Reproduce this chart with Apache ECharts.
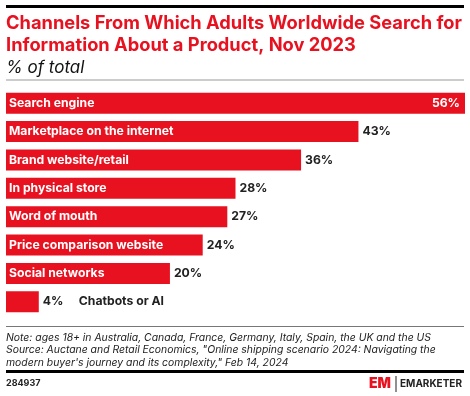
<!DOCTYPE html>
<html>
<head>
<meta charset="utf-8">
<script src="https://cdn.jsdelivr.net/npm/echarts@6/dist/echarts.min.js"></script>
<style>
  html, body { margin: 0; padding: 0; background: #fff; }
  #main { width: 470px; height: 396px; }
</style>
</head>
<body>
<div id="main"></div>
<script>
// data
var categories = ['Search engine', 'Marketplace on the internet', 'Brand website/retail',
  'In physical store', 'Word of mouth', 'Price comparison website', 'Social networks', 'Chatbots or AI'];
var values = [56, 43, 36, 28, 27, 24, 20, 4];

var RED = '#e8111f';
var FONT = 'Inter';

var chart = echarts.init(document.getElementById('main'));

// name labels inside the bars (last one goes outside, next to its value)
var nameData = values.map(function (v, i) {
  var item = { value: v };
  if (i === values.length - 1) item.label = { show: false };
  return item;
});

// value labels, right of bar; first one sits inside the bar
var valueData = values.map(function (v, i) {
  var item = { value: v };
  if (i === 0) {
    item.label = { position: 'insideRight', color: '#fff', offset: [-1, 0] };
  }
  if (i === values.length - 1) {
    item.label = {
      formatter: '{v|' + v + '%}{n|' + categories[i] + '}',
      rich: {
        v: { fontFamily: FONT, fontWeight: 'bold', fontSize: 12.2, color: '#222', width: 36 },
        n: { fontFamily: FONT, fontWeight: 'bold', fontSize: 12.2, color: '#222' }
      }
    };
  }
  return item;
});

chart.setOption({
  animation: false,
  grid: { left: 6, right: 5, top: 89, height: 227, containLabel: false },
  xAxis: { type: 'value', min: 0, max: 56, show: false },
  yAxis: {
    type: 'category', data: categories, inverse: true, show: false
  },
  series: [
    {
      type: 'bar',
      data: nameData,
      barWidth: 21,
      itemStyle: { color: RED },
      label: {
        show: true, position: 'insideLeft', offset: [-2, 0],
        formatter: function (p) { return categories[p.dataIndex]; },
        color: '#fff', fontFamily: FONT, fontWeight: 'bold', fontSize: 12.2
      }
    },
    {
      type: 'bar',
      data: valueData,
      barWidth: 21,
      barGap: '-100%',
      itemStyle: { color: 'transparent' },
      label: {
        show: true, position: 'right', distance: 4,
        formatter: '{c}%',
        color: '#222', fontFamily: FONT, fontWeight: 'bold', fontSize: 12.2
      }
    }
  ],
  graphic: [
    { type: 'rect', shape: { x: 6, y: 5, width: 458, height: 3 }, style: { fill: '#000' } },
    { type: 'text', x: 6, y: 13, style: {
      text: 'Channels From Which Adults Worldwide Search for\nInformation About a Product, Nov 2023',
      fill: RED, font: 'bold 18.3px Inter', lineHeight: 21.5 } },
    { type: 'text', x: 6, y: 59, style: {
      text: '% of total', fill: '#111', font: 'italic 17px Inter' } },
    { type: 'rect', shape: { x: 6, y: 79.5, width: 458, height: 1 }, style: { fill: '#999' } },

    { type: 'rect', shape: { x: 6, y: 326, width: 458, height: 1 }, style: { fill: '#777' } },
    { type: 'text', x: 6, y: 331, style: {
      text: 'Note: ages 18+ in Australia, Canada, France, Germany, Italy, Spain, the UK and the US\n' +
        'Source: Auctane and Retail Economics, "Online shipping scenario 2024: Navigating the\n' +
        'modern buyer\'s journey and its complexity," Feb 14, 2024',
      fill: '#222', font: 'italic 10.4px Inter', lineHeight: 12.8 } },
    { type: 'rect', shape: { x: 6, y: 370, width: 458, height: 3 }, style: { fill: '#000' } },
    { type: 'text', x: 6, y: 379, style: { text: '284937', fill: '#222', font: 'bold 9px Inter' } },
    { type: 'text', x: 369, y: 377, style: { text: 'EM', fill: RED, font: '900 14px Inter' } },
    { type: 'rect', shape: { x: 395.5, y: 376, width: 1, height: 16 }, style: { fill: '#222' } },
    { type: 'text', x: 400, y: 379, style: { text: 'EMARKETER', fill: '#222', font: 'bold 10px Inter' } }
  ]
});
</script>
</body>
</html>
